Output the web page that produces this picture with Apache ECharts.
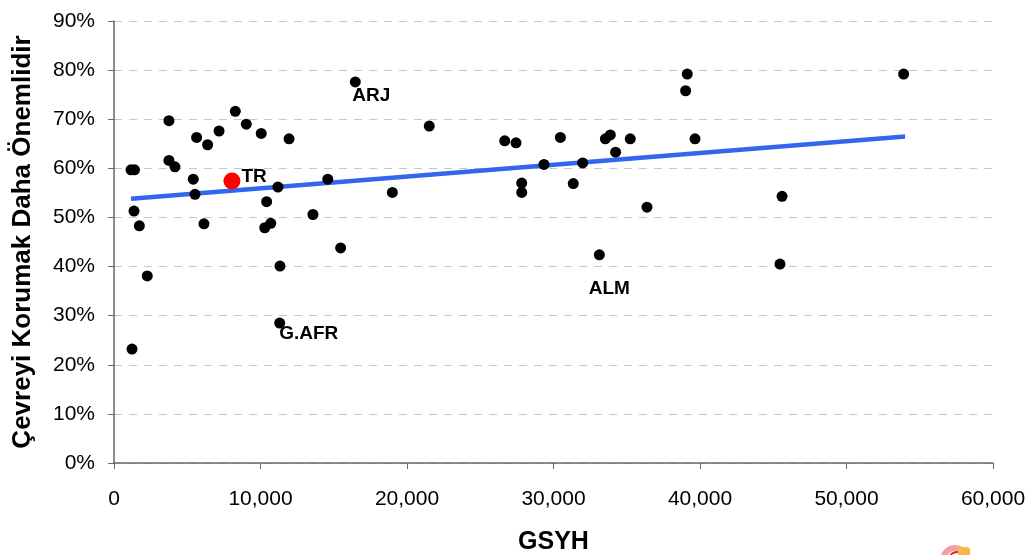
<!DOCTYPE html>
<html><head><meta charset="utf-8">
<script src="https://cdn.jsdelivr.net/npm/echarts@6/dist/echarts.min.js"></script>
<style>html,body{margin:0;padding:0;background:#fff}#c{width:1031px;height:555px}</style>
</head><body><div id="c"></div>
<script>
// GDP per capita (GSYH) and share saying protecting environment is more important (%)
const gdp = [1160,1400,1365,1730,2270,1230,3750,3750,4160,5640,6390,7170,8280,9030,10050,11950,
  5410,5530,6140,11190,10420,10290,10700,13580,15470,11330,14590,21520,19000,
  26670,27440,30470,33540,33880,35240,34240,29350,31990,27830,27830,31350,36380,
  39130,39020,39660,53900,45600,45460];
const share = [59.7,59.7,51.3,48.3,38.1,23.2,69.7,61.6,60.3,66.3,64.8,67.6,71.6,69.0,67.1,66.0,
  57.8,54.7,48.7,56.2,53.2,47.9,48.8,50.6,43.8,40.1,57.8,68.6,55.1,
  65.6,65.2,66.3,66.0,66.8,66.0,63.3,60.8,61.1,57.0,55.1,56.9,52.1,
  79.2,75.8,66.0,79.2,54.3,40.5];
// labelled countries
const labelNames = ['TR','ARJ','G.AFR','ALM'];
const labelGdp = [8050,16470,11310,33130];
const labelShare = [57.4,77.6,28.5,42.4];
// trend line endpoints
const trendX = [1160,54000];
const trendY = [53.8,66.5];

const chart = echarts.init(document.getElementById('c'));
const font = 'Liberation Sans, Arial, sans-serif';
const pts = gdp.map((g,i)=>[g,share[i]]);
const lab = labelNames.map((n,i)=>({name:n,value:[labelGdp[i],labelShare[i]]}));
const labelCfg = {
  TR:{position:'right',offset:[-4,-4]},
  ARJ:{position:'bottom',offset:[16,-6]},
  'G.AFR':{position:'bottom',offset:[29,-9]},
  ALM:{position:'bottom',offset:[10,14]}
};
chart.setOption({
  animation:false,
  grid:{left:114,right:38,top:21,bottom:92,outerBoundsMode:'none',containLabel:false},
  xAxis:{type:'value',min:0,max:60000,interval:10000,
    name:'GSYH',nameLocation:'middle',nameGap:67,
    nameTextStyle:{fontFamily:font,fontSize:25,fontWeight:'bold',color:'#000'},
    axisLine:{lineStyle:{color:'#666',width:1.5}},
    axisTick:{show:true,inside:false,length:6,lineStyle:{color:'#666'}},
    axisLabel:{fontFamily:font,fontSize:21,color:'#000',margin:26,
      formatter:v=>v.toLocaleString('en-US')},
    splitLine:{show:false}},
  yAxis:{type:'value',min:0,max:90,interval:10,
    name:'Çevreyi Korumak Daha Önemlidir',nameLocation:'middle',nameGap:78,
    nameTextStyle:{fontFamily:font,fontSize:26,fontWeight:'bold',color:'#000'},
    axisLine:{show:true,lineStyle:{color:'#666',width:1.5}},
    axisTick:{show:true,length:6,lineStyle:{color:'#666'}},
    axisLabel:{fontFamily:font,fontSize:21,color:'#000',margin:19,formatter:v=>v+'%'},
    splitLine:{show:true,lineStyle:{color:'#c8c8c8',type:[8,7],width:1}}},
  series:[
    {type:'line',data:trendX.map((x,i)=>[x,trendY[i]]),symbol:'none',
      lineStyle:{color:'#3366ee',width:4.5},z:3},
    {type:'scatter',data:pts,symbolSize:11,itemStyle:{color:'#000',opacity:1},z:4},
    {type:'scatter',data:lab.map(d=>({name:d.name,value:d.value,
        symbolSize:d.name==='TR'?17:11,
        itemStyle:{color:d.name==='TR'?'#ff0000':'#000',opacity:1},
        label:Object.assign({show:true,formatter:'{b}',fontFamily:font,fontSize:19,
          fontWeight:'bold',color:'#000',opacity:1},labelCfg[d.name])})),
      z:5}
  ],
  graphic:[
    {type:'arc',shape:{cx:955,cy:560,r:12,startAngle:Math.PI,endAngle:Math.PI*1.9},
      style:{stroke:'#f4a0a0',lineWidth:6,fill:null},silent:true},
    {type:'arc',shape:{cx:957,cy:560,r:8,startAngle:Math.PI*1.1,endAngle:Math.PI*1.8},
      style:{stroke:'#e02020',lineWidth:2,fill:null},silent:true},
    {type:'rect',shape:{x:958,y:547,width:12,height:10,r:3},
      style:{fill:'#f5b84a'},silent:true}
  ]
});
</script></body></html>
